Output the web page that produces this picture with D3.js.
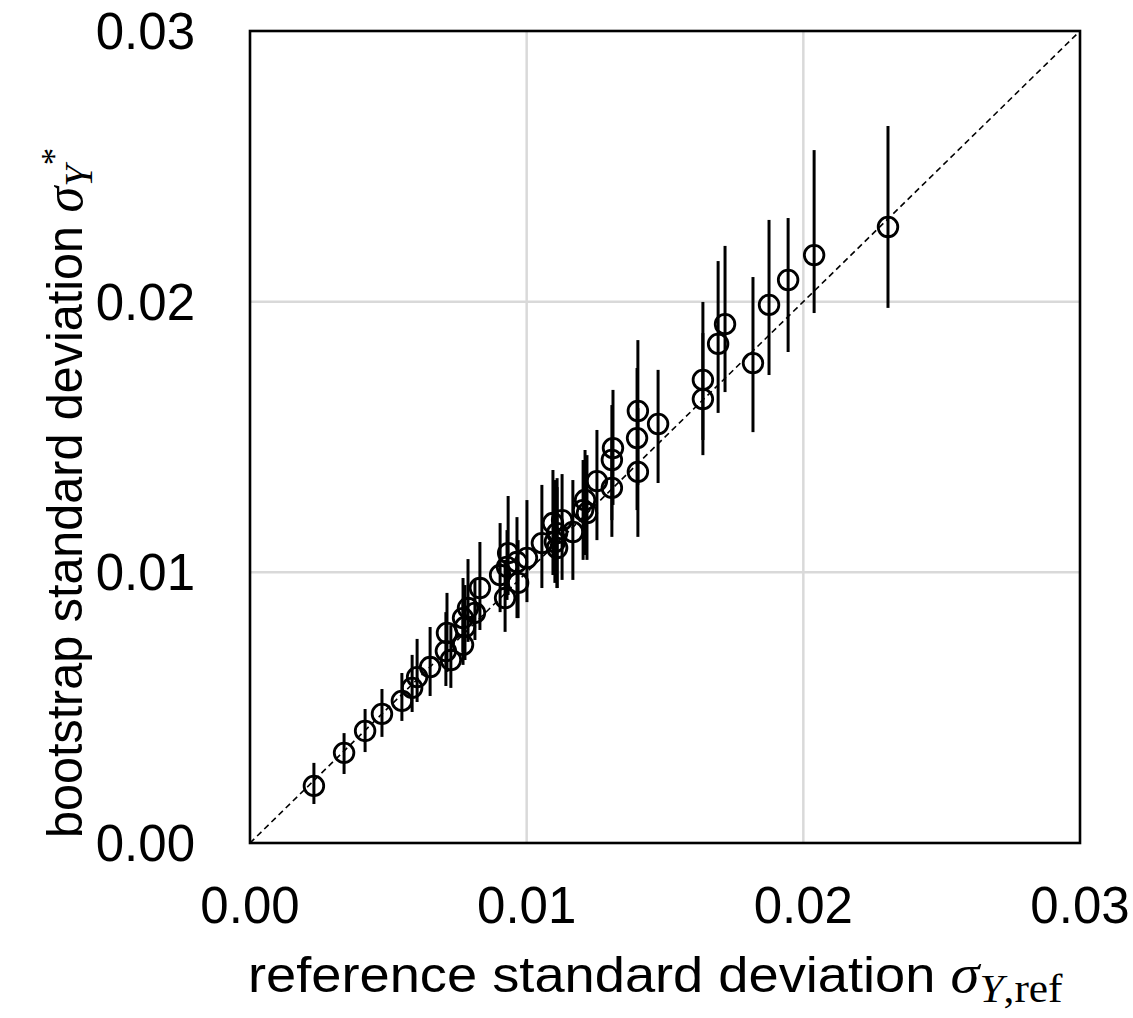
<!DOCTYPE html>
<html>
<head>
<meta charset="utf-8">
<script src="https://cdn.jsdelivr.net/npm/d3@7"></script>
<style>
  body { margin: 0; background: #fff; }
  text { font-family: "Liberation Sans", Arial, sans-serif; fill: #000; }
  .math { font-family: "Liberation Serif", "DejaVu Serif", serif; }
</style>
</head>
<body>
<script>
// reference sd (x), bootstrap sd (y) and its interval (lo..hi)
const refSd = [0.00231, 0.00340, 0.00416, 0.00477, 0.00549, 0.00586, 0.00604, 0.00651, 0.00708, 0.00712,
  0.00726, 0.00770, 0.00777, 0.00770, 0.00788, 0.00813, 0.00831, 0.00922, 0.00904, 0.00929,
  0.00933, 0.00965, 0.00969, 0.01001, 0.01055, 0.01095, 0.01110, 0.01102, 0.01110, 0.01128,
  0.01167, 0.01204, 0.01211, 0.01218, 0.01254, 0.01308, 0.01308, 0.01312, 0.01402, 0.01399,
  0.01402, 0.01475, 0.01637, 0.01637, 0.01692, 0.01717, 0.01818, 0.01876, 0.01945, 0.02039, 0.02306];
const bootSd = [0.00211, 0.00333, 0.00414, 0.00477, 0.00525, 0.00573, 0.00613, 0.00650, 0.00709, 0.00776,
  0.00676, 0.00732, 0.00798, 0.00831, 0.00868, 0.00850, 0.00942, 0.00905, 0.00990, 0.01020,
  0.01071, 0.01038, 0.00961, 0.01053, 0.01108, 0.01182, 0.01145, 0.01112, 0.01090, 0.01193,
  0.01149, 0.01230, 0.01267, 0.01219, 0.01337, 0.01312, 0.01415, 0.01459, 0.01371, 0.01496,
  0.01596, 0.01548, 0.01640, 0.01711, 0.01844, 0.01917, 0.01773, 0.01988, 0.02080, 0.02172, 0.02276];
const bootLo = [0.00144, 0.00255, 0.00336, 0.00392, 0.00451, 0.00484, 0.00521, 0.00543, 0.00580, 0.00632,
  0.00573, 0.00658, 0.00676, 0.00706, 0.00743, 0.00750, 0.00787, 0.00780, 0.00853, 0.00898,
  0.00916, 0.00831, 0.00831, 0.00890, 0.00942, 0.00990, 0.00942, 0.00961, 0.00942, 0.00972,
  0.00972, 0.01046, 0.01064, 0.01046, 0.01119, 0.01131, 0.01193, 0.01249, 0.01131, 0.01230,
  0.01323, 0.01330, 0.01433, 0.01489, 0.01589, 0.01666, 0.01518, 0.01729, 0.01814, 0.01958, 0.01977];
const bootHi = [0.00296, 0.00406, 0.00495, 0.00569, 0.00628, 0.00695, 0.00754, 0.00798, 0.00853, 0.00924,
  0.00805, 0.00887, 0.00953, 0.00979, 0.01049, 0.00972, 0.01112, 0.01046, 0.01182, 0.01156,
  0.01282, 0.01204, 0.01119, 0.01267, 0.01323, 0.01378, 0.01348, 0.01341, 0.01315, 0.01363,
  0.01341, 0.01415, 0.01452, 0.01433, 0.01526, 0.01489, 0.01618, 0.01674, 0.01607, 0.01755,
  0.01858, 0.01748, 0.01884, 0.01999, 0.02150, 0.02206, 0.02091, 0.02302, 0.02309, 0.02560, 0.02649];

const tickValues = [0, 0.01, 0.02, 0.03];
const tickLabels = ["0.00", "0.01", "0.02", "0.03"];

const W = 1133, H = 1018;
const margin = { left: 250, right: 53, top: 31, bottom: 175 };

const svg = d3.select("body").append("svg")
  .attr("width", W)
  .attr("height", H);

const x = d3.scaleLinear().domain([0, 0.03]).range([margin.left, W - margin.right]);
const y = d3.scaleLinear().domain([0, 0.03]).range([H - margin.bottom, margin.top]);

// grid
const grid = svg.append("g")
  .attr("stroke", "#d9d9d9")
  .attr("stroke-width", 2.5);
tickValues.slice(1, 3).forEach(t => {
  grid.append("line")
    .attr("x1", x(t)).attr("x2", x(t))
    .attr("y1", y(0)).attr("y2", y(0.03));
  grid.append("line")
    .attr("x1", x(0)).attr("x2", x(0.03))
    .attr("y1", y(t)).attr("y2", y(t));
});

// y = x reference line
svg.append("line")
  .attr("x1", x(0)).attr("y1", y(0))
  .attr("x2", x(0.03)).attr("y2", y(0.03))
  .attr("stroke", "#000")
  .attr("stroke-width", 1.6)
  .attr("stroke-dasharray", "6,4");

const pts = refSd.map((r, i) => ({ r: r, b: bootSd[i], lo: bootLo[i], hi: bootHi[i] }));

svg.append("g").selectAll("circle")
  .data(pts).join("circle")
  .attr("cx", d => x(d.r))
  .attr("cy", d => y(d.b))
  .attr("r", 9.8)
  .attr("fill", "none")
  .attr("stroke", "#000")
  .attr("stroke-width", 2.8);

svg.append("g").selectAll("line")
  .data(pts).join("line")
  .attr("x1", d => x(d.r)).attr("x2", d => x(d.r))
  .attr("y1", d => y(d.lo)).attr("y2", d => y(d.hi))
  .attr("stroke", "#000")
  .attr("stroke-width", 3);

// frame
svg.append("rect")
  .attr("x", x(0)).attr("y", y(0.03))
  .attr("width", x(0.03) - x(0))
  .attr("height", y(0) - y(0.03))
  .attr("fill", "none")
  .attr("stroke", "#000")
  .attr("stroke-width", 2.6);

// tick labels
svg.append("g").selectAll("text")
  .data(tickValues).join("text")
  .attr("x", d => x(d))
  .attr("y", y(0) + 80)
  .attr("text-anchor", "middle")
  .attr("font-size", 51)
  .text((d, i) => tickLabels[i]);

svg.append("g").selectAll("text")
  .data(tickValues).join("text")
  .attr("x", x(0) - 55)
  .attr("y", d => y(d) + 18)
  .attr("text-anchor", "end")
  .attr("font-size", 51)
  .text((d, i) => tickLabels[i]);

// axis titles
const xt = svg.append("text")
  .attr("transform", "translate(248,992) scale(1.085,1)")
  .attr("font-size", 50);
xt.append("tspan").text("reference standard deviation ");
xt.append("tspan").attr("class", "math").attr("font-style", "italic").attr("font-size", 54).text("σ");
xt.append("tspan").attr("class", "math").attr("font-style", "italic").attr("font-size", 40).attr("dy", 10).text("Y");
xt.append("tspan").attr("class", "math").attr("font-size", 40).text(",ref");

const yt = svg.append("text")
  .attr("transform", "translate(82,838) rotate(-90) scale(0.97,1)")
  .attr("font-size", 50);
yt.append("tspan").text("bootstrap standard deviation ");
yt.append("tspan").attr("class", "math").attr("font-style", "italic").attr("font-size", 54).text("σ");
yt.append("tspan").attr("class", "math").attr("font-style", "italic").attr("font-size", 40).attr("dy", 10).text("Y");
yt.append("tspan").attr("class", "math").attr("font-size", 36).attr("dy", -26).text("*");
</script>
</body>
</html>
